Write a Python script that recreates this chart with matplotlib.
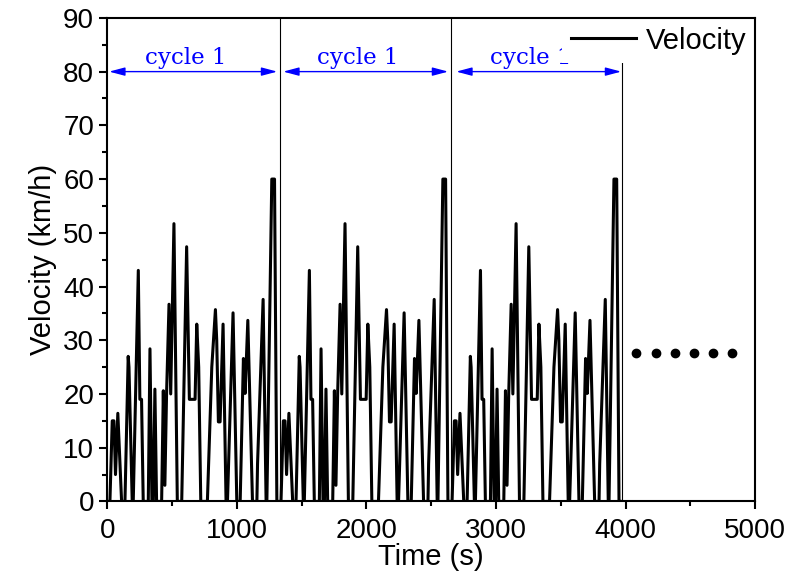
import matplotlib
matplotlib.use("Agg")
import matplotlib.pyplot as plt
import numpy as np

plt.rcParams['font.family'] = ['Liberation Sans', 'DejaVu Sans']

cycle_t = [0, 21, 39, 52, 64, 82, 111, 137, 162, 168, 193, 201, 240, 252, 265, 278,
           317, 330, 345, 356, 368, 381, 420, 433, 445, 458, 477, 490, 515, 541,
           575, 613, 634, 678, 691, 706, 722, 773, 807, 835, 845, 858, 871, 894, 917,
           928, 971, 1000, 1026, 1051, 1064, 1085, 1121, 1155, 1160, 1203, 1226,
           1232, 1270, 1291, 1309, 1320]
cycle_v = [0, 0, 15, 15, 5, 16.4, 0, 0, 27, 25, 0, 0, 43, 19, 19, 0,
           0, 28.4, 0, 0, 20.9, 0, 0, 20.6, 3, 20, 36.7, 20, 51.7, 0,
           0, 47.4, 19, 19, 33, 25, 0, 0, 25, 35.7, 30, 14.8, 14.8, 33, 0,
           0, 35.1, 0, 0, 26.6, 20.1, 33.7, 0, 0, 7, 37.6, 0,
           0, 60, 60, 0, 0]
cycle_length = 1320
n_cycles = 3

cycle_marks = [1335, 2655, 3975]             # thin vertical separators
arrow_spans = [(15, 1312), (1358, 2631), (2693, 3966)]
arrow_level = 80
cycle_labels = ["cycle 1", "cycle 1", "cycle 1"]

dots_t = [4082, 4236, 4383, 4529, 4676, 4823]
dots_v = [27.7, 27.7, 27.7, 27.7, 27.7, 27.7]

time = np.concatenate([np.array(cycle_t) + k * cycle_length for k in range(n_cycles)])
velocity = np.concatenate([np.array(cycle_v) for k in range(n_cycles)])

fig = plt.figure(figsize=(8.06, 5.77), dpi=100)
ax = fig.add_axes([0.133, 0.131, 0.804, 0.838])

ax.plot(time, velocity, color='black', linewidth=2.2, label='Velocity', zorder=2)

for xm in cycle_marks:
    ax.axvline(xm, color='black', linewidth=0.8, zorder=1)

# cycle arrows
for (a, b), lab in zip(arrow_spans, cycle_labels):
    ax.annotate('', xy=(a, arrow_level), xytext=(b, arrow_level),
                arrowprops=dict(arrowstyle='<|-|>,head_length=0.94,head_width=0.25',
                                color='blue', lw=1.0, mutation_scale=10,
                                shrinkA=0, shrinkB=0), zorder=3)
    ax.text((a + b) / 2 - 60, arrow_level + 0.5, lab, color='blue', ha='center', va='bottom',
            fontsize=16.5, family='DejaVu Serif', zorder=3)

ax.plot(dots_t, dots_v, linestyle='none', marker='o', markersize=6, color='black')

ax.set_xlim(0, 5000)
ax.set_ylim(0, 90)
ax.set_xticks(np.arange(0, 5001, 1000))
ax.set_xticks(np.arange(500, 5000, 1000), minor=True)
ax.set_yticks(np.arange(0, 91, 10))
ax.set_yticks(np.arange(5, 90, 10), minor=True)
ax.tick_params(which='major', direction='out', length=6, width=1.5, labelsize=20,
               top=False, right=False)
ax.tick_params(axis='x', which='major', pad=6)
ax.tick_params(which='minor', direction='out', length=3.5, width=1.5, top=False, right=False)
for sp in ax.spines.values():
    sp.set_linewidth(1.5)
    sp.set_zorder(6)

ax.set_xlabel('Time (s)', fontsize=21, labelpad=-1)
ax.set_ylabel('Velocity (km/h)', fontsize=21, labelpad=4)

leg = ax.legend(loc='upper right', bbox_to_anchor=(1.0, 1.0), fontsize=21, frameon=True,
                fancybox=False, borderaxespad=0, borderpad=0.3, handlelength=2.24,
                handletextpad=0.34)
leg.get_frame().set_edgecolor('none')
leg.get_frame().set_facecolor('white')
leg.get_frame().set_alpha(1)
leg.set_zorder(5)

fig.savefig('out.png', dpi=100)
